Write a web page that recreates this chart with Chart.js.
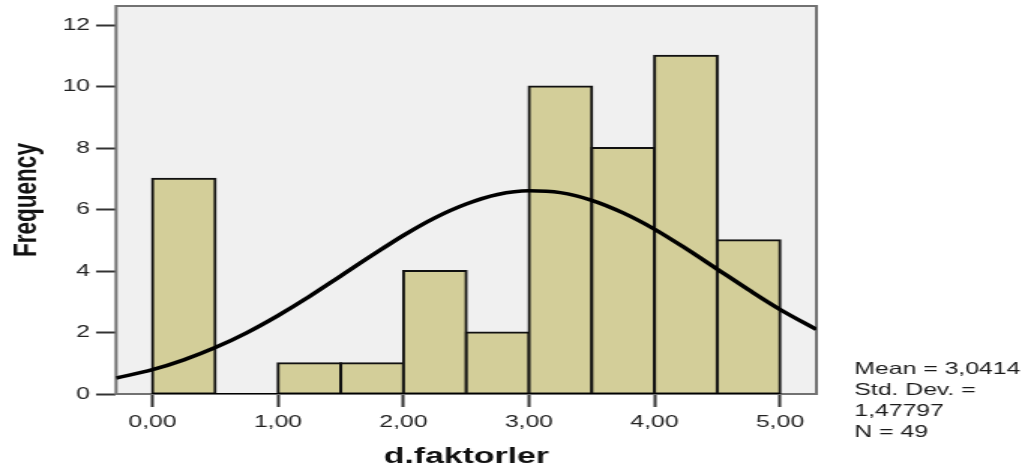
<!DOCTYPE html>
<html>
<head>
<meta charset="utf-8">
<title>d.faktorler</title>
<script src="https://cdn.jsdelivr.net/npm/chart.js@4.4.1/dist/chart.umd.min.js"></script>
<style>
  html, body { margin: 0; padding: 0; background: #ffffff; overflow: hidden; }
  /* the chart is laid out narrow and stretched horizontally, like the SPSS export */
  #wrap { width: 685px; height: 475px; transform: scaleX(1.50073); transform-origin: 0 0; }
  canvas { display: block; }
</style>
</head>
<body>
<div id="wrap"><canvas id="hist" width="685" height="475" style="width:685px;height:475px"></canvas></div>
<script>
// Histogram bins (lower edge) and their frequencies
const binStarts = [0, 0.5, 1.0, 1.5, 2.0, 2.5, 3.0, 3.5, 4.0, 4.5];
const binWidth = 0.5;
const frequencies = [7, 0, 1, 1, 4, 2, 10, 8, 11, 5];

// Fitted normal curve, sampled along the x range
const curveX = [-0.29, 0, 0.25, 0.5, 0.75, 1.0, 1.25, 1.5, 1.75, 2.0, 2.25, 2.5, 2.75, 3.0, 3.25, 3.5, 3.75, 4.0, 4.25, 4.5, 4.75, 5.0, 5.29];
const curveY = [0.52, 0.79, 1.11, 1.51, 1.99, 2.55, 3.17, 3.84, 4.51, 5.16, 5.73, 6.18, 6.49, 6.61, 6.55, 6.30, 5.89, 5.36, 4.73, 4.06, 3.39, 2.75, 2.10];

// Axis ticks
const xTickValues = [0, 1, 2, 3, 4, 5];
const xTickLabels = ['0,00', '1,00', '2,00', '3,00', '4,00', '5,00'];
const yTickValues = [0, 2, 4, 6, 8, 10, 12];
const yTickLabels = ['0', '2', '4', '6', '8', '10', '12'];

// Summary statistics
const statsLines = ['Mean = 3,0414', 'Std. Dev. =', '1,47797', 'N = 49'];

const FONT = '"Liberation Sans", Arial, Helvetica, sans-serif';

const barPoints = binStarts.map((s, i) => ({ x: s + binWidth / 2, y: frequencies[i] }));
const curvePoints = curveX.map((x, i) => ({ x: x, y: curveY[i] }));
const baselinePoints = [
  { x: binStarts[0], y: 0 },
  { x: binStarts[binStarts.length - 1] + binWidth, y: 0 }
];

// Grey plot background with a grey frame
const plotFrame = {
  id: 'plotFrame',
  beforeDatasetsDraw(chart) {
    const { ctx, chartArea: a } = chart;
    ctx.save();
    ctx.fillStyle = '#f0f0f0';
    ctx.fillRect(a.left, a.top, a.width, a.height);
    ctx.strokeStyle = '#727272';
    ctx.lineWidth = 2;
    ctx.strokeRect(a.left, a.top, a.width, a.height);
    ctx.restore();
  }
};

// Statistics block to the right of the plot
const statsBlock = {
  id: 'statsBlock',
  afterDraw(chart) {
    const { ctx, chartArea: a } = chart;
    ctx.save();
    ctx.font = '16.5px ' + FONT;
    ctx.fillStyle = '#1a1a1a';
    ctx.textAlign = 'left';
    ctx.textBaseline = 'alphabetic';
    statsLines.forEach((line, i) => {
      ctx.fillText(line, a.right + 25.3, a.bottom - 20 + i * 21);
    });
    ctx.restore();
  }
};

new Chart(document.getElementById('hist'), {
  type: 'bar',
  data: {
    datasets: [
      {
        type: 'line',
        data: curvePoints,
        borderColor: '#000000',
        borderWidth: 3.5,
        pointRadius: 0,
        cubicInterpolationMode: 'monotone',
        fill: false,
        order: 0
      },
      {
        type: 'line',
        data: baselinePoints,
        borderColor: '#000000',
        borderWidth: 2,
        pointRadius: 0,
        fill: false,
        order: 1
      },
      {
        type: 'bar',
        data: barPoints,
        backgroundColor: '#d3ce99',
        borderColor: '#111111',
        borderWidth: 2,
        borderSkipped: false,
        inflateAmount: 1,
        barPercentage: 1,
        categoryPercentage: 1,
        order: 2
      }
    ]
  },
  options: {
    responsive: false,
    animation: false,
    devicePixelRatio: 1,
    layout: { padding: { left: 0, right: 141, top: 6, bottom: 0 } },
    plugins: {
      legend: { display: false },
      tooltip: { enabled: false }
    },
    scales: {
      x: {
        type: 'linear',
        min: -0.29,
        max: 5.29,
        offset: false,
        afterFit(scale) {
          scale.height = 81;
          scale.paddingLeft = 0;
          scale.paddingRight = 0;
        },
        afterBuildTicks(scale) { scale.ticks = xTickValues.map(v => ({ value: v })); },
        grid: {
          offset: false,
          drawOnChartArea: false,
          drawTicks: true,
          tickLength: 13,
          tickWidth: 2,
          tickColor: '#333333'
        },
        border: { display: false },
        ticks: {
          padding: 6,
          color: '#222222',
          font: { family: FONT, size: 16.5 },
          maxRotation: 0,
          callback(value) {
            const i = xTickValues.indexOf(value);
            return i >= 0 ? xTickLabels[i] : '';
          }
        },
        title: {
          display: true,
          text: 'd.faktorler',
          color: '#111111',
          font: { family: FONT, size: 22.5, weight: 'bold' },
          padding: { top: 0, bottom: 4.4 }
        }
      },
      y: {
        type: 'linear',
        min: 0,
        max: 12.62,
        afterFit(scale) {
          scale.width = 77.33;
          scale.paddingTop = 0;
          scale.paddingBottom = 0;
        },
        afterBuildTicks(scale) { scale.ticks = yTickValues.map(v => ({ value: v })); },
        grid: {
          drawOnChartArea: false,
          drawTicks: true,
          tickLength: 13.3,
          tickWidth: 2,
          tickColor: '#333333'
        },
        border: { display: false },
        ticks: {
          padding: 4,
          color: '#222222',
          font: { family: FONT, size: 16.5 },
          callback(value) {
            const i = yTickValues.indexOf(value);
            return i >= 0 ? yTickLabels[i] : '';
          }
        },
        title: {
          display: true,
          text: 'Frequency',
          color: '#111111',
          font: { family: FONT, size: 22.5, weight: 'bold' },
          padding: { top: 4.4, bottom: 0 }
        }
      }
    }
  },
  plugins: [plotFrame, statsBlock]
});
</script>
</body>
</html>
